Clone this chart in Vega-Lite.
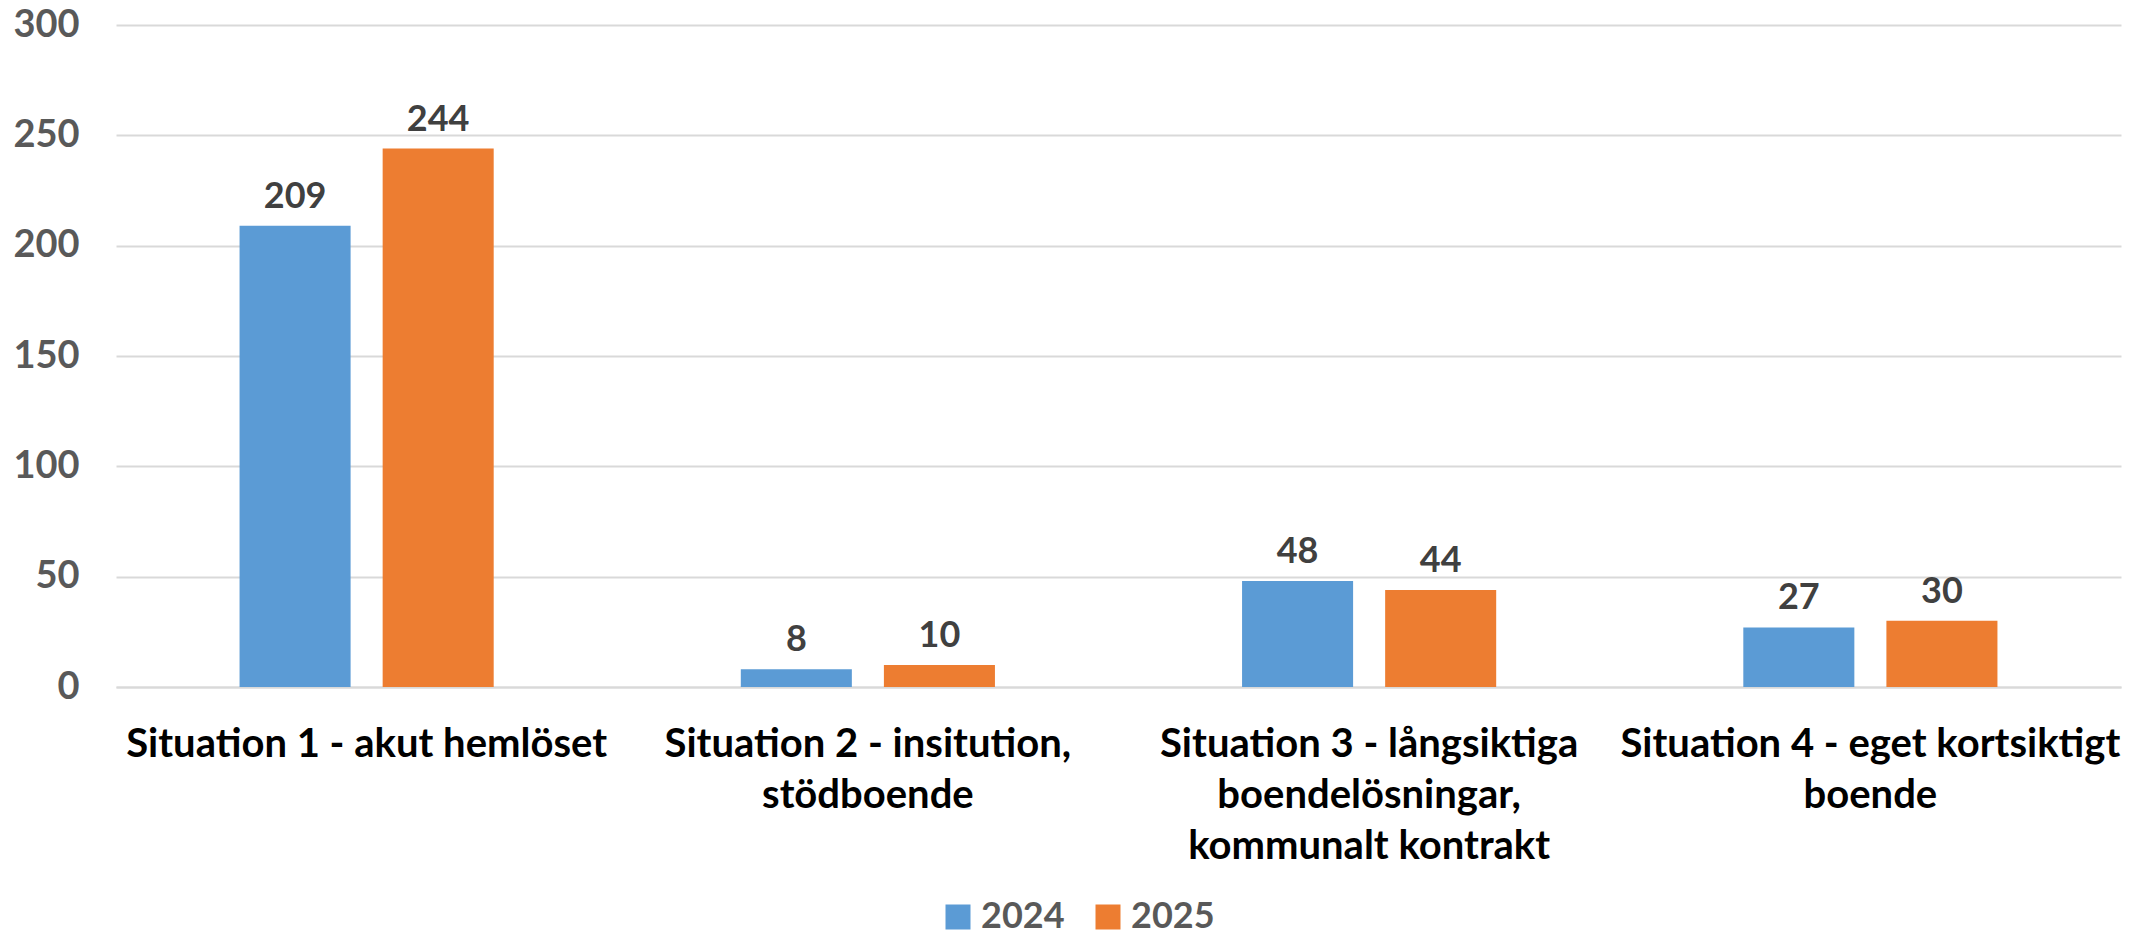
{
  "$schema": "https://vega.github.io/schema/vega-lite/v6.json",
  "width": 2005,
  "height": 662,
  "autosize": {"type": "none"},
  "padding": {"left": 116, "top": 25, "right": 25, "bottom": 251},
  "background": "white",
  "config": {
    "font": "Lato",
    "view": {"stroke": null}
  },
  "data": {
    "values": [
      {"situation": "Situation 1 - akut hemlöset", "year": "2024", "value": 209},
      {"situation": "Situation 1 - akut hemlöset", "year": "2025", "value": 244},
      {"situation": "Situation 2 - insitution,|stödboende", "year": "2024", "value": 8},
      {"situation": "Situation 2 - insitution,|stödboende", "year": "2025", "value": 10},
      {"situation": "Situation 3 - långsiktiga|boendelösningar,|kommunalt kontrakt", "year": "2024", "value": 48},
      {"situation": "Situation 3 - långsiktiga|boendelösningar,|kommunalt kontrakt", "year": "2025", "value": 44},
      {"situation": "Situation 4 - eget kortsiktigt|boende", "year": "2024", "value": 27},
      {"situation": "Situation 4 - eget kortsiktigt|boende", "year": "2025", "value": 30}
    ]
  },
  "encoding": {
    "x": {
      "field": "situation",
      "type": "nominal",
      "sort": null,
      "scale": {"paddingInner": 0.493, "paddingOuter": 0.2465},
      "axis": {
        "title": null,
        "labelAngle": 0,
        "labelExpr": "split(datum.label, '|')",
        "labelFont": "Lato",
        "labelFontSize": 40,
        "labelFontWeight": "bold",
        "labelColor": "#000000",
        "labelLineHeight": 51,
        "labelPadding": 37,
        "labelBaseline": "top",
        "labelLimit": 0,
        "ticks": false,
        "domain": true,
        "domainColor": "#d9d9d9",
        "domainWidth": 2
      }
    },
    "xOffset": {
      "field": "year",
      "type": "nominal",
      "scale": {"paddingInner": 0.224, "paddingOuter": 0}
    },
    "y": {
      "field": "value",
      "type": "quantitative",
      "scale": {"domain": [0, 300], "nice": false},
      "axis": {
        "title": null,
        "values": [0, 50, 100, 150, 200, 250, 300],
        "labelFont": "Lato",
        "labelFontSize": 38,
        "labelFontWeight": "bold",
        "labelColor": "#595959",
        "labelPadding": 37,
        "ticks": false,
        "domain": false,
        "gridColor": "#d9d9d9",
        "gridWidth": 2
      }
    },
    "color": {
      "field": "year",
      "type": "nominal",
      "scale": {"domain": ["2024", "2025"], "range": ["#5b9bd5", "#ed7d31"]},
      "legend": {
        "title": null,
        "orient": "none",
        "direction": "horizontal",
        "legendX": 824,
        "legendY": 874,
        "padding": 0,
        "symbolType": "square",
        "symbolSize": 625,
        "symbolStrokeWidth": 0,
        "labelFont": "Lato",
        "labelFontSize": 36,
        "labelFontWeight": "bold",
        "labelColor": "#595959",
        "labelOffset": 5,
        "columnPadding": 25
      }
    }
  },
  "layer": [
    {"mark": {"type": "bar"}},
    {
      "mark": {
        "type": "text",
        "font": "Lato",
        "fontSize": 36,
        "fontWeight": "bold",
        "color": "#404040",
        "baseline": "alphabetic",
        "dy": -18
      },
      "encoding": {
        "text": {"field": "value", "type": "quantitative"},
        "color": {"value": "#404040"}
      }
    }
  ]
}
